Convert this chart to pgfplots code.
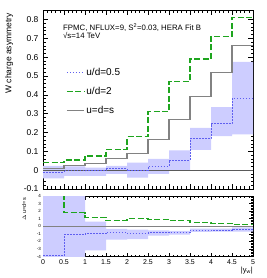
\documentclass[border=0pt]{standalone}
\usepackage{fontspec}
\setmainfont{Liberation Sans}
\usepackage{pgfplots}
\pgfplotsset{compat=1.18}
\definecolor{grn}{RGB}{30,165,30}
\definecolor{blu}{RGB}{95,95,240}
\definecolor{bandc}{RGB}{205,205,255}
\definecolor{gry}{RGB}{130,130,130}
\definecolor{zer}{RGB}{90,90,90}
\begin{document}
\begin{tikzpicture}[x=1pt,y=1pt]
\useasboundingbox (0,0) rectangle (266,278);
\pgfplotsset{
  common/.style={
    scale only axis, width=210pt, anchor=south west,
    xmin=0, xmax=5, xtick={0,0.5,1,1.5,2,2.5,3,3.5,4,4.5,5},
    minor x tick num=4, minor y tick num=4,
    tick align=inside, axis line style={line width=0.6pt},
    major tick length=5pt, minor tick length=2.5pt,
    every tick/.style={black, line width=0.5pt},
    /pgf/number format/assume math mode=true,
    clip=true,
  }
}
\begin{axis}[common, at={(43pt,89pt)}, height=179pt,
  ymin=-0.1, ymax=0.85, ytick={-0.1,0,0.1,0.2,0.3,0.4,0.5,0.6,0.7,0.8},
  xticklabels={},
  yticklabel style={font=\fontsize{8.5}{10}\selectfont, xshift=-1pt},
  legend style={draw=none, fill=none, at={(0.095,0.70)}, anchor=north west,
    font=\fontsize{10}{12}\selectfont, row sep=6.5pt, legend cell align=left},
  legend cell align=left,
]
% band
\addplot[draw=none, fill=bandc, forget plot] coordinates {
 (0,0.023)(0.5,0.023)(0.5,0.02)(1,0.02)(1,0.014)(1.5,0.014)(1.5,0.023)(2,0.023)
 (2,0.04)(2.5,0.04)(2.5,0.06)(3,0.06)(3,0.105)(3.5,0.105)(3.5,0.225)(4,0.225)
 (4,0.335)(4.5,0.335)(4.5,0.575)(5,0.575)
 (5,0.19)(4.5,0.19)(4.5,0.18)(4,0.18)(4,0.107)(3.5,0.107)(3.5,0.0)(3,0.0)
 (3,-0.02)(2.5,-0.02)(2.5,-0.04)(2,-0.04)(2,-0.02)(1.5,-0.02)(1.5,-0.03)(1,-0.03)
 (1,-0.03)(0.5,-0.03)(0.5,-0.044)(0,-0.044)} -- cycle;
\addplot[zer, line width=0.9pt, forget plot] coordinates {(0,0)(5,0)};
\addplot[const plot, blu, line width=1pt, dash pattern=on 1.6pt off 1.4pt] coordinates {
 (0,-0.012)(0.5,0.0)(1,-0.004)(1.5,0.01)(2,0.0)(2.5,0.02)(3,0.053)(3.5,0.167)(4,0.247)(4.5,0.38)(5,0.38)};
\addlegendentry{u/d=0.5}
\addplot[const plot, grn, line width=1.2pt, dash pattern=on 6pt off 2.5pt] coordinates {
 (0,0.04)(0.5,0.054)(1,0.075)(1.5,0.11)(2,0.177)(2.5,0.31)(3,0.47)(3.5,0.59)(4,0.71)(4.5,0.81)(5,0.81)};
\addlegendentry{u/d=2}
\addplot[const plot, gry, line width=1.2pt] coordinates {
 (0,0.009)(0.5,0.023)(1,0.035)(1.5,0.062)(2,0.09)(2.5,0.163)(3,0.27)(3.5,0.39)(4,0.52)(4.5,0.66)(5,0.66)};
\addlegendentry{u=d=s}
\end{axis}
\begin{axis}[common, at={(43pt,21.5pt)}, height=60.5pt,
  ymin=-4, ymax=4, ytick={-4,-3,-2,-1,0,1,2,3,4},
  major tick length=4pt, minor tick length=2pt,
  yticklabel style={font=\fontsize{4.5}{5}\selectfont, xshift=1.5pt},
  xticklabel style={font=\fontsize{7}{8}\selectfont},
]
\addplot[draw=none, fill=bandc] coordinates {
 (0,4.5)(0.5,4.5)(0.5,4.5)(1,4.5)(1,0.6)(1.5,0.6)(1.5,-0.35)(2,-0.35)
 (2,-0.45)(2.5,-0.45)(2.5,-0.55)(3,-0.55)(3,-0.6)(3.5,-0.6)(3.5,-0.3)(4,-0.3)
 (4,-0.3)(4.5,-0.3)(4.5,-0.15)(5,-0.15)
 (5,-0.72)(4.5,-0.72)(4.5,-0.7)(4,-0.7)(4,-0.75)(3.5,-0.75)(3.5,-1.1)(3,-1.1)
 (3,-1.25)(2.5,-1.25)(2.5,-1.7)(2,-1.7)(2,-1.77)(1.5,-1.77)(1.5,-3.2)(1,-3.2)
 (1,-4.5)(0.5,-4.5)(0.5,-4.5)(0,-4.5)} -- cycle;
\addplot[gry, line width=1.2pt] coordinates {(0,0)(5,0)};
\addplot[const plot, blu, line width=1pt, dash pattern=on 1.6pt off 1.4pt] coordinates {
 (0,-3.87)(0.5,-1.1)(1,-1.0)(1.5,-0.8)(2,-0.95)(2.5,-0.88)(3,-0.8)(3.5,-0.55)(4,-0.52)(4.5,-0.4)(5,-0.4)};
\addplot[const plot, grn, line width=1.2pt, dash pattern=on 6pt off 2.5pt] coordinates {
 (0,6)(0.5,1.79)(1,1.2)(1.5,0.76)(2,0.98)(2.5,0.92)(3,0.74)(3.5,0.52)(4,0.37)(4.5,0.22)(5,0.22)};
\end{axis}
\node[rotate=90, anchor=north east, font=\fontsize{8.5}{10}\selectfont, inner sep=0pt] at (5,265) {W charge asymmetry};
\node[rotate=90, anchor=north east, font=\fontsize{5.5}{6}\selectfont, inner sep=0pt] at (22,80) {$\Delta$ u=d=s};
\node[anchor=west, font=\fontsize{7.8}{9}\selectfont, inner sep=0pt] at (63,250) {FPMC, NFLUX=9, S\textsuperscript{2}=0.03, HERA Fit B};
\node[anchor=west, font=\fontsize{7.8}{9}\selectfont, inner sep=0pt] at (63,242.5) {√s=14 TeV};
\node[anchor=east, font=\fontsize{7.5}{9}\selectfont, inner sep=0pt] at (253,7) {|y\textsubscript{w}|};
\end{tikzpicture}
\end{document}
